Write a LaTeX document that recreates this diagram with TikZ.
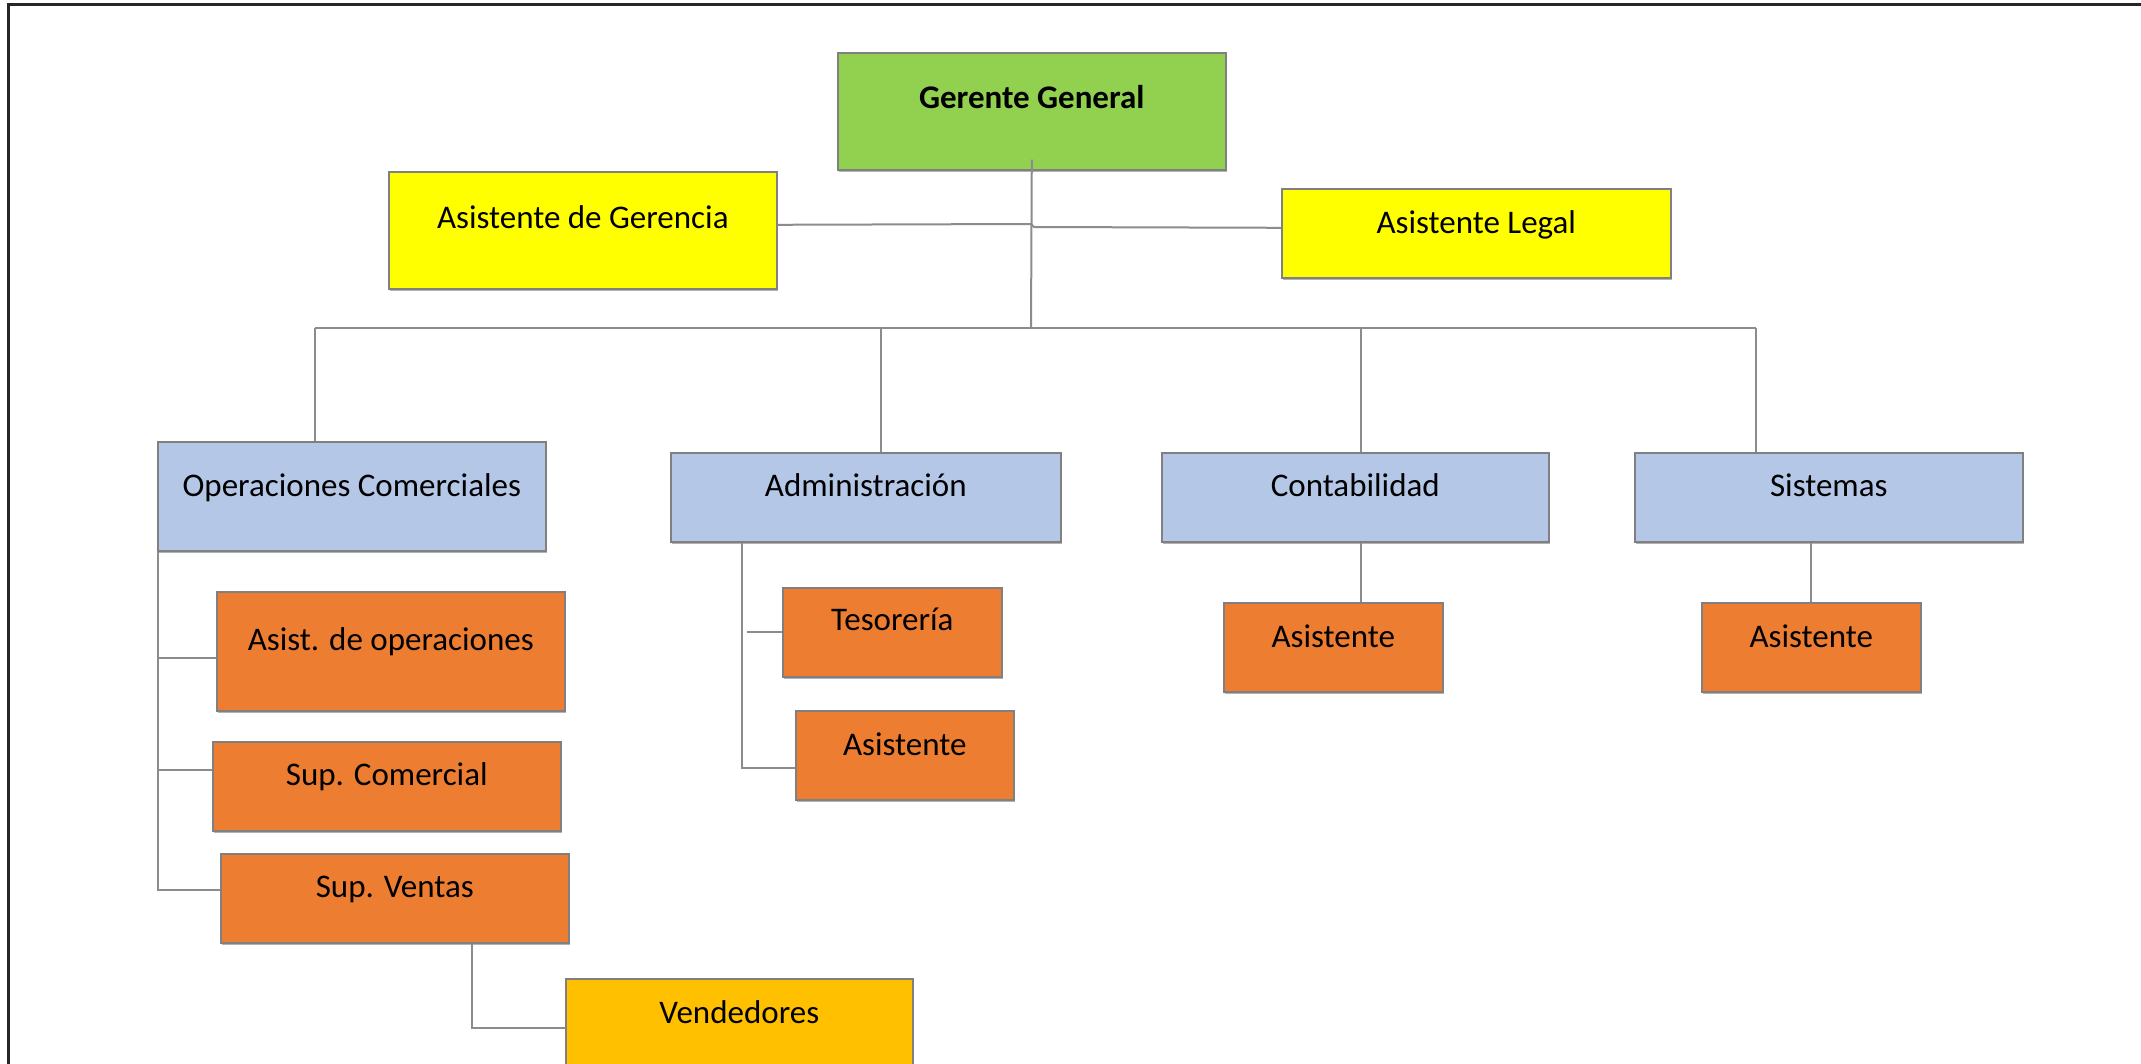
\documentclass[tikz,border=0pt]{standalone}
\usepackage{fontspec}
\setmainfont{Carlito}
\usetikzlibrary{shadows}
\definecolor{cgreen}{RGB}{146,208,80}
\definecolor{cyellow}{RGB}{255,255,0}
\definecolor{cblue}{RGB}{180,199,231}
\definecolor{corange}{RGB}{237,125,49}
\definecolor{cgold}{RGB}{255,192,0}
\definecolor{cline}{RGB}{140,140,140}
\definecolor{cborder}{RGB}{128,128,128}
\newcommand{\orgbox}[8]{%
  \node[orgrect, fill=#6, minimum width={(#4-#2)*1pt}, minimum height={(#5-#3)*1pt}, anchor=north west] (#1) at (#2,-#3) {};
  \node[lbl] (#1-t) at ([yshift={-(#8+11)*1pt}]#1.north) {#7};}
\begin{document}
\begin{tikzpicture}[x=1pt,y=1pt,
  orgrect/.style={draw=cborder, line width=1.6pt, inner sep=0pt,
    drop shadow={shadow xshift=1.5pt, shadow yshift=-2.5pt, opacity=0.3, fill=black}},
  lbl/.style={anchor=base, font=\fontsize{33}{40}\selectfont, inner sep=0pt},
  conn/.style={draw=cline, line width=2pt}]
\useasboundingbox (0,0) rectangle (2141,-1064);
\fill[white] (0,0) rectangle (2141,-1064);
% frame
\draw[line width=3pt, black!85] (8,-1064) -- (8,-5) -- (2141,-5);
% boxes
\orgbox{g}{837}{52}{1225}{169}{cgreen}{\textbf{Gerente General}}{46}
\orgbox{asg}{388}{171}{776}{288}{cyellow}{Asistente de Gerencia}{47}
\orgbox{asl}{1281}{188}{1670}{277}{cyellow}{Asistente Legal}{35}
\orgbox{opc}{157}{441}{545}{550}{cblue}{Operaciones Comerciales}{44}
\orgbox{adm}{670}{452}{1060}{541}{cblue}{Administración}{33}
\orgbox{con}{1161}{452}{1548}{541}{cblue}{Contabilidad}{33}
\orgbox{sis}{1634}{452}{2022}{541}{cblue}{Sistemas}{33}
\orgbox{aop}{216}{591}{564}{710}{corange}{Asist. de operaciones}{48}
\orgbox{scm}{212}{741}{560}{830}{corange}{Sup. Comercial}{33}
\orgbox{sv}{220}{853}{568}{942}{corange}{Sup. Ventas}{33}
\orgbox{ven}{565}{978}{912}{1095}{cgold}{Vendedores}{34}
\orgbox{tes}{782}{587}{1001}{676}{corange}{Tesorería}{32}
\orgbox{aad}{795}{710}{1013}{799}{corange}{Asistente}{34}
\orgbox{aco}{1223}{602}{1442}{691}{corange}{Asistente}{34}
\orgbox{asi}{1701}{602}{1920}{691}{corange}{Asistente}{34}
% coordinates
\coordinate (bus) at (1031,-328);
\coordinate (vOp) at (315,-328);
\coordinate (vAd) at (881,-328);
\coordinate (vCo) at (1361,-328);
\coordinate (vSi) at (1756,-328);
\coordinate (jog1) at (1031,-224);
\coordinate (jog2) at (1034,-227);
\coordinate (tesx) at (747,-630);
\coordinate (vCoB) at (1361,0);
% connectors
\draw[conn] ([yshift=11pt]g.south) -- (bus);
\draw[conn] (vOp) -- (vSi);
\draw[conn] (vOp) -- (vOp |- opc.north);
\draw[conn] (vAd) -- (vAd |- adm.north);
\draw[conn] (vCo) -- (vCo |- con.north);
\draw[conn] (vSi) -- (vSi |- sis.north);
\draw[conn] ([yshift=5.5pt]asg.east) -- (jog1) -- (jog2) -- ([yshift=5.5pt]asl.west);
\draw[conn] ([xshift=1pt]opc.south west) |- ([yshift=-6.5pt]aop.west);
\draw[conn] ([xshift=1pt]opc.south west) |- ([yshift=16.5pt]scm.west);
\draw[conn] ([xshift=1pt]opc.south west) |- ([yshift=8.5pt]sv.west);
\draw[conn] ([xshift=77pt]sv.south) |- ([yshift=9.5pt]ven.west);
\draw[conn] ([xshift=72pt]adm.south west) |- ([yshift=-12.5pt]aad.west);
\draw[conn] (tesx |- tes.west) -- (tes.west);
\draw[conn] (vCoB |- con.south) -- (vCoB |- aco.north);
\draw[conn] (asi.north) -- (asi.north |- sis.south);
\end{tikzpicture}
\end{document}
